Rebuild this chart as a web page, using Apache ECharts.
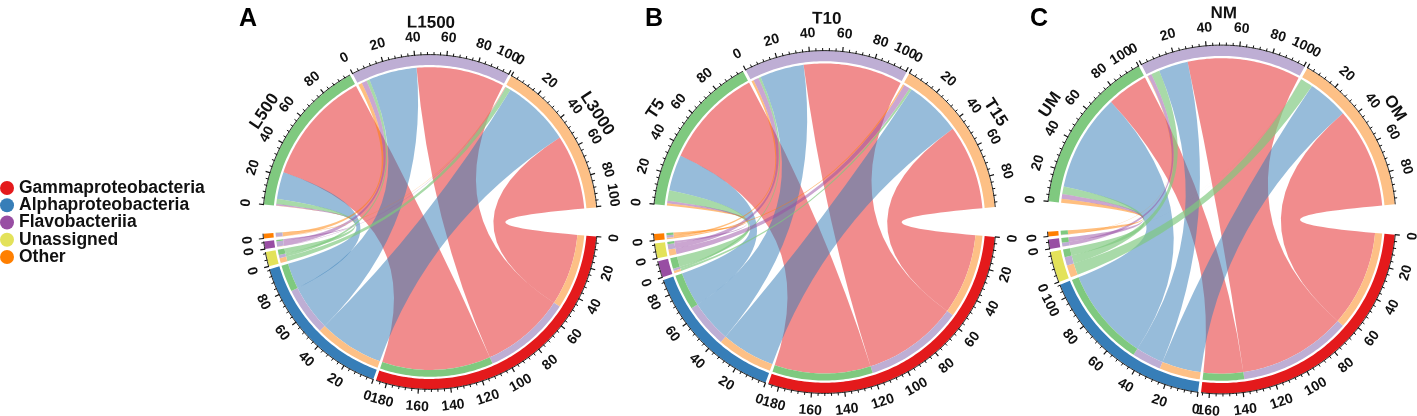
<!DOCTYPE html>
<html><head><meta charset="utf-8">
<style>html,body{margin:0;padding:0;background:#fff}#c{width:1417px;height:416px}</style>
<script src="https://cdn.jsdelivr.net/npm/echarts@6/dist/echarts.min.js"></script>
</head><body><div id="c"></div>
<script>
// Legend categories
const taxa = ['Gammaproteobacteria','Alphaproteobacteria','Flavobacteriia','Unassigned','Other'];
const taxaColors = ['#E41A1C','#377EB8','#984EA3','#E3E25A','#FF7F00'];
const siteColors = ['#7FC97F','#BEAED4','#FDC086'];

// Panel A: values per site [L500, L1500, L3000]
const sitesA = ['L500','L1500','L3000'];
const orderA = ['Unassigned','Flavobacteriia','Other'];
const gammaA = [76.7, 59.5, 50.5];
const alphaA = [18.2, 32.5, 46];
const nearA  = [3.6, 2.1, 3.4];
const midA   = [1, 3.5, 0.3];
const farA   = [0.2, 2.5, 0.3];

// Panel B: values per site [T5, T10, T15]
const sitesB = ['T5','T10','T15'];
const orderB = ['Flavobacteriia','Unassigned','Other'];
const gammaB = [66, 65, 55.5];
const alphaB = [23.5, 29, 37];
const nearB  = [7, 1.5, 1.5];
const midB   = [1.5, 3.5, 4];
const farB   = [1.5, 1.5, 1];

// Panel C: values per site [UM, NM, OM]
const sitesC = ['UM','NM','OM'];
const orderC = ['Unassigned','Flavobacteriia','Other'];
const gammaC = [26.8, 73.2, 65];
const alphaC = [62.8, 19, 26.5];
const nearC  = [5, 5.5, 8];
const midC   = [3, 2.5, 0.1];
const farC   = [2.5, 0.3, 0.1];

const panelLetters = ['A','B','C'];
const FONT = '"Liberation Sans", Arial, sans-serif';
const BIG_GAP = 10, SMALL_GAP = 1, FIRST = 5;
const ribbonColors = ['rgba(228,26,28,.5)','rgba(55,126,184,.52)','rgba(127,201,127,.68)','rgba(152,78,163,.5)','rgba(255,127,0,.5)'];

const sum = a => a.reduce((x,y)=>x+y,0);
const colorOf = n => taxaColors[taxa.indexOf(n)];

function buildMarks(sites, order, gamma, alpha, near, mid, far){
  const rows = [gamma, alpha, near, mid, far];
  const names = ['Gammaproteobacteria','Alphaproteobacteria'].concat(order);
  const siteTotals = sites.map((_,i)=>rows.reduce((s,r)=>s+r[i],0));
  const taxTotals = rows.map(sum);
  const total = sum(siteTotals)+sum(taxTotals);
  const k = (360-2*FIRST-BIG_GAP-6*SMALL_GAP)/total;
  const secs = [];
  let a = FIRST;
  taxTotals.forEach((t,i)=>{
    secs.push({a0:a,size:t,color:colorOf(names[i])});
    a += t*k + (i<4?SMALL_GAP:BIG_GAP);
  });
  const taxSec = secs.slice();
  const siteSec = [];
  siteTotals.forEach((t,i)=>{
    const s={a0:a,size:t,color:siteColors[i],name:sites[i]};
    siteSec.push(s); secs.push(s);
    a += t*k + SMALL_GAP;
  });
  const marks = [];
  // link slots: on a site clockwise far,mid,near,alpha,gamma; on a taxon clockwise site3,site2,site1
  const siteOffsets = sites.map(()=>0);
  const siteSlot = {};
  [4,3,2,1,0].forEach(ri=>{
    sites.forEach((_,si)=>{
      siteSlot[ri+'_'+si]=siteOffsets[si];
      siteOffsets[si]+=rows[ri][si];
    });
  });
  [0,1,2,3,4].forEach(ri=>{
    let off=0;
    [2,1,0].forEach(si=>{
      const v=rows[ri][si];
      const b0=taxSec[ri].a0+off*k, b1=b0+v*k;
      const s0=siteSec[si].a0+siteSlot[ri+'_'+si]*k, s1=s0+v*k;
      marks.push({t:'ribbon',s0,s1,b0,b1,fill:ribbonColors[ri]});
      marks.push({t:'band',a0:b0,a1:b1,fill:siteColors[si]});
      off+=v;
    });
  });
  secs.forEach(s=>{
    const a1=s.a0+s.size*k;
    marks.push({t:'ring',a0:s.a0,a1,fill:s.color});
    marks.push({t:'axis',a0:s.a0,a1});
    for(let v=0;v<=s.size;v+=4){
      const ang=s.a0+v*k, major=v%20===0;
      marks.push({t:'tick',a:ang,major});
      if(major){
        // a last label sitting at the sector end is pulled back inside the sector
        const atEnd = v>0 && s.size-v<1;
        marks.push({t:'label',a:atEnd?ang-3.1:ang,text:String(v)});
      }
    }
    if(s.name) marks.push({t:'name',a:(s.a0+a1)/2,text:s.name});
  });
  return marks;
}

function arcPts(api,r,a0,a1){
  const n=Math.max(1,Math.ceil(Math.abs(a1-a0))), pts=[];
  for(let i=0;i<=n;i++) pts.push(api.coord([r,a0+(a1-a0)*i/n]));
  return pts;
}
const fmt=p=>p[0].toFixed(2)+' '+p[1].toFixed(2);
function arcPath(pts,move){return pts.map((p,i)=>(i===0?(move?'M':'L'):'L')+fmt(p)).join(' ');}

function makeRender(marks,R){
  const rRingIn=R*0.94, rRib=R*0.927, rBand=R*0.886;
  return function(params,api){
    const m=marks[params.dataIndex];
    if(m.t==='ribbon'){
      const c=api.coord([0,0]);
      const d=arcPath(arcPts(api,rRib,m.s0,m.s1),true)+' Q'+fmt(c)+' '+fmt(api.coord([rBand,m.b0]))+' '
        +arcPath(arcPts(api,rBand,m.b0,m.b1),false)+' Q'+fmt(c)+' '+fmt(api.coord([rRib,m.s0]))+' Z';
      return {type:'path',shape:{pathData:d},style:{fill:m.fill,stroke:null},silent:true};
    }
    if(m.t==='band'||m.t==='ring'){
      const ro=m.t==='band'?rRib:R, ri=m.t==='band'?rBand:rRingIn;
      const d=arcPath(arcPts(api,ro,m.a0,m.a1),true)+' '+arcPath(arcPts(api,ri,m.a1,m.a0),false)+' Z';
      return {type:'path',shape:{pathData:d},style:{fill:m.fill,stroke:null},silent:true};
    }
    if(m.t==='axis'){
      return {type:'path',shape:{pathData:arcPath(arcPts(api,R+0.4,m.a0,m.a1),true)},style:{fill:null,stroke:'#111',lineWidth:0.9},silent:true};
    }
    if(m.t==='tick'){
      const p0=api.coord([R,m.a]), p1=api.coord([R+(m.major?5:3),m.a]);
      return {type:'line',shape:{x1:p0[0],y1:p0[1],x2:p1[0],y2:p1[1]},style:{stroke:'#111',lineWidth:m.major?1.2:1},silent:true};
    }
    const isName=m.t==='name';
    const p=api.coord([R+(isName?32:18),m.a]);
    const deg=m.a>=180?m.a-270:m.a-90;
    return {type:'text',x:p[0],y:p[1],rotation:-deg*Math.PI/180,silent:true,
      style:{text:m.text,x:0,y:0,align:'center',verticalAlign:'middle',fill:'#111',
        font:'bold '+(isName?17:14)+'px '+FONT}};
  };
}

const panels=[
  {center:[430,222],R:167,letter:[239,7],marks:buildMarks(sitesA,orderA,gammaA,alphaA,nearA,midA,farA)},
  {center:[824.5,222],R:171,letter:[645,7],marks:buildMarks(sitesB,orderB,gammaB,alphaB,nearB,midB,farB)},
  {center:[1221.5,219.5],R:174,letter:[1030,7],marks:buildMarks(sitesC,orderC,gammaC,alphaC,nearC,midC,farC)}
];

const option={
  backgroundColor:'#fff',animation:false,
  title:panels.map((p,i)=>({text:panelLetters[i],left:p.letter[0],top:p.letter[1],padding:0,
    textStyle:{fontFamily:FONT,fontWeight:'bold',fontSize:25,color:'#000'}})),
  legend:{orient:'vertical',left:0,top:179,padding:0,itemWidth:14,itemHeight:14,itemGap:-0.75,icon:'circle',
    selectedMode:false,data:taxa,itemStyle:{borderWidth:0},
    textStyle:{fontFamily:FONT,fontWeight:'bold',fontSize:17.5,lineHeight:14,height:14,color:'#111'}},
  polar:panels.map(p=>({center:p.center,radius:p.R})),
  angleAxis:panels.map((p,i)=>({polarIndex:i,type:'value',min:0,max:360,startAngle:0,clockwise:true,show:false})),
  radiusAxis:panels.map((p,i)=>({polarIndex:i,type:'value',min:0,max:p.R,show:false})),
  series:panels.map((p,i)=>({type:'custom',coordinateSystem:'polar',polarIndex:i,silent:true,
      renderItem:makeRender(p.marks,p.R),
      data:p.marks.map(m=>[0,m.a0!==undefined?m.a0:(m.a!==undefined?m.a:m.s0)])}))
    .concat(taxa.map((n,i)=>({type:'custom',name:n,coordinateSystem:'none',renderItem:()=>null,data:[],itemStyle:{color:taxaColors[i]}})))
};
const chart=echarts.init(document.getElementById('c'),null,{renderer:'canvas'});
chart.setOption(option);
</script></body></html>
